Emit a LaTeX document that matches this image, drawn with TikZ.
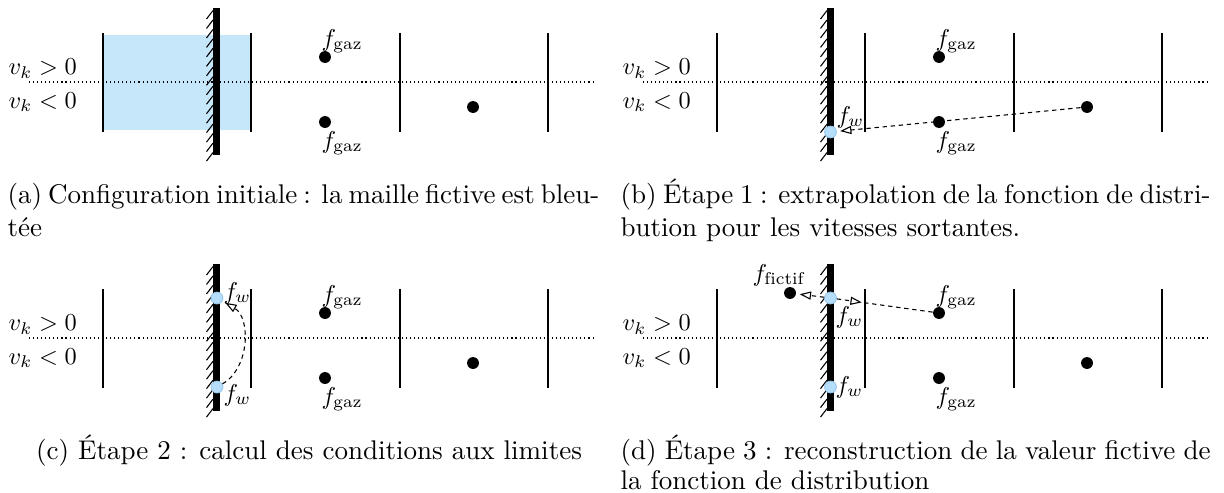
\documentclass[tikz,border=0pt]{standalone}
\usepackage{fontspec}
\usepackage{graphicx}
\usetikzlibrary{arrows.meta}
\definecolor{cellblue}{RGB}{198,230,250}
\definecolor{wdot}{RGB}{182,222,250}
\definecolor{wdotb}{RGB}{150,200,238}
\newcommand{\dl}[1]{\scalebox{0.9}{#1}}
\tikzset{
  cell/.style={line width=0.42pt},
  axisline/.style={line width=0.4pt, dash pattern=on 0.4pt off 1.1pt},
  wallbar/.style={fill=black},
  hatch/.style={line width=0.4pt},
  gdot/.style={circle,fill=black,inner sep=0pt,minimum size=4.4pt},
  wdotst/.style={circle,fill=wdot,draw=wdotb,line width=0.3pt,inner sep=0pt,minimum size=4.4pt},
  lab/.style={inner sep=0pt,anchor=base west},
  ext/.style={line width=0.4pt,dash pattern=on 1.6pt off 1.4pt},
  arr/.style={-{Triangle[open,length=4.2pt,width=3pt]},shorten >=1.2pt},
}
\newcommand{\panelbase}[1]{%
  \foreach \xx in {103,251,400,548} \draw[cell] (\xx,33) -- (\xx,132);
  \draw[axisline] (29,82) -- (595,82);
  \fill[wallbar] (213,8) rectangle (220,155);
  \foreach \k in {0,...,15} \draw[hatch] (206.5,{19+9.47*\k}) -- (213,{10.5+9.47*\k});
  \node[lab] (#1vp) at (8,74.5) {\dl{$v_k > 0$}};
  \node[lab] (#1vn) at (8,108) {\dl{$v_k < 0$}};
  \node[gdot] (#1top) at (325,57) {};
  \node[gdot] (#1bot) at (325,122) {};
  \node[gdot] (#1far) at (473,107) {};
  \node[lab] (#1gt) at (321,46) {\dl{$f_{\mathrm{gaz}}$}};
  \node[lab] (#1gb) at (321,148) {\dl{$f_{\mathrm{gaz}}$}};
}
\begin{document}
\begin{tikzpicture}[x=0.37pt,y=-0.37pt]
\useasboundingbox (0,0) rectangle (1224,492);
% (a)
\begin{scope}
  \fill[cellblue] (103.5,35) rectangle (250.5,130);
  \panelbase{a}
  \node[lab] (capa1) at (7,203) {\makebox[218.3pt][s]{(a) Configuration initiale : la maille fictive est bleu-}};
  \node[lab] (capa2) at (7,236) {tée};
\end{scope}
% (b)
\begin{scope}[shift={(614,0)}]
  \panelbase{b}
  \node[wdotst] (bfw) at (216.5,132) {};
  \node[lab] (bfwl) at (222,123) {\dl{$f_w$}};
  \draw[ext,arr] (bfar) -- (bfw);
  \node[lab] (capb1) at (6,203) {\makebox[218.3pt][s]{(b) Étape 1 : extrapolation de la fonction de distri-}};
  \node[lab] (capb2) at (6,236) {bution pour les vitesses sortantes.};
\end{scope}
% (c)
\begin{scope}[shift={(0,256)}]
  \panelbase{c}
  \node[wdotst] (cfwt) at (217,42) {};
  \node[wdotst] (cfwb) at (217,131) {};
  \node[lab] (cfwtl) at (223,43) {\dl{$f_w$}};
  \node[lab] (cfwbl) at (223,145) {\dl{$f_w$}};
  \draw[ext,arr] (cfwb) to[bend right=60] (cfwt);
  \node[inner sep=0pt,anchor=base] (capc) at (309,203) {(c) Étape 2 : calcul des conditions aux limites};
\end{scope}
% (d)
\begin{scope}[shift={(614,256)}]
  \panelbase{d}
  \node[gdot] (dfic) at (176,37) {};
  \node[lab] (dficl) at (138,25) {\dl{$f_{\mathrm{fictif}}$}};
  \node[wdotst] (dfwt) at (216.5,42) {};
  \node[wdotst] (dfwb) at (216.5,131) {};
  \node[lab] (dfwtl) at (221,67) {\dl{$f_w$}};
  \node[lab] (dfwbl) at (221,137) {\dl{$f_w$}};
  \coordinate (dmid) at (251,46.8);
  \draw[ext] (dtop) -- (dmid);
  \draw[ext,arr] (dfwt) -- (dmid);
  \draw[ext,arr] (dfwt) -- (dfic);
  \node[lab] (capd1) at (6,203) {\makebox[218.3pt][s]{(d) Étape 3 : reconstruction de la valeur fictive de}};
  \node[lab] (capd2) at (6,233.5) {la fonction de distribution};
\end{scope}
\end{tikzpicture}
\end{document}
